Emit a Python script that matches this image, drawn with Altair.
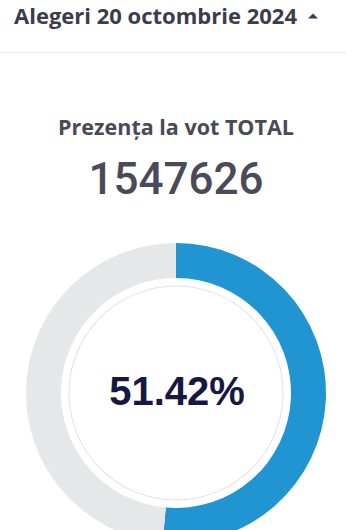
import altair as alt
import pandas as pd

# ---- data ----
header_text = ["Alegeri 20 octombrie 2024"]
title_text = ["Prezența la vot TOTAL"]
total_votes = [1547626]
slice_labels = ["Prezență", "Rest"]
slice_values = [51.42, 48.58]
slice_colors = ["#2194d2", "#e6e7e9"]

W, H = 346, 530
CX, CY = 176, 393

arc_df = pd.DataFrame({"label": slice_labels, "value": slice_values, "ord": [0, 1]})
ring_df = pd.DataFrame({"value": [100]})

donut = alt.Chart(arc_df).mark_arc(radius=150, radius2=115).encode(
    x=alt.value(CX), y=alt.value(CY),
    theta=alt.Theta("value:Q", stack=True, scale=alt.Scale(domain=[0, 100])),
    order=alt.Order("ord:Q"),
    color=alt.Color("label:N", scale=alt.Scale(domain=slice_labels, range=slice_colors), legend=None),
)

ring = alt.Chart(ring_df).mark_arc(radius=107.5, radius2=106.5, color="#e3e3e6").encode(
    x=alt.value(CX), y=alt.value(CY),
    theta=alt.Theta("value:Q", scale=alt.Scale(domain=[0, 100])),
)

pct_df = pd.DataFrame({"t": [f"{slice_values[0]:.2f}%"]})
pct = alt.Chart(pct_df).mark_text(
    font="Liberation Sans", fontWeight="bold", fontSize=40, color="#17173f",
    align="center", baseline="alphabetic"
).encode(x=alt.value(CX + 1), y=alt.value(405), text="t:N")

num_df = pd.DataFrame({"t": [str(total_votes[0])]})
num = alt.Chart(num_df).mark_text(
    font="Roboto", fontWeight=500, fontSize=44, color="#4a4a59", align="center", baseline="alphabetic"
).encode(x=alt.value(CX), y=alt.value(194), text="t:N")

title_df = pd.DataFrame({"t": title_text})
title = alt.Chart(title_df).mark_text(
    font="Open Sans", fontWeight="bold", fontSize=21.5, color="#4a4a55",
    align="center", baseline="alphabetic"
).encode(x=alt.value(CX), y=alt.value(135), text="t:N")

head_df = pd.DataFrame({"t": header_text})
head = alt.Chart(head_df).mark_text(
    font="Open Sans", fontWeight="bold", fontSize=22, color="#3c3c4a",
    align="left", baseline="alphabetic"
).encode(x=alt.value(14), y=alt.value(23.5), text="t:N")

caret = alt.Chart(head_df).mark_point(
    shape="M-1,0.5L1,0.5L0,-0.5Z", size=100, filled=True, color="#3c3c4a", opacity=1
).encode(x=alt.value(313), y=alt.value(16))

rule = alt.Chart(head_df).mark_rule(color="#eeeeee", strokeWidth=1).encode(
    x=alt.value(0), x2=alt.value(W), y=alt.value(52.5)
)

chart = alt.layer(rule, head, caret, title, num, ring, donut, pct).properties(
    width=W, height=H, autosize=alt.AutoSizeParams(type="none"), padding=0,
    background="white"
).configure_view(stroke=None)

chart.save("out.html", embed_options={"renderer": "svg", "actions": False})
